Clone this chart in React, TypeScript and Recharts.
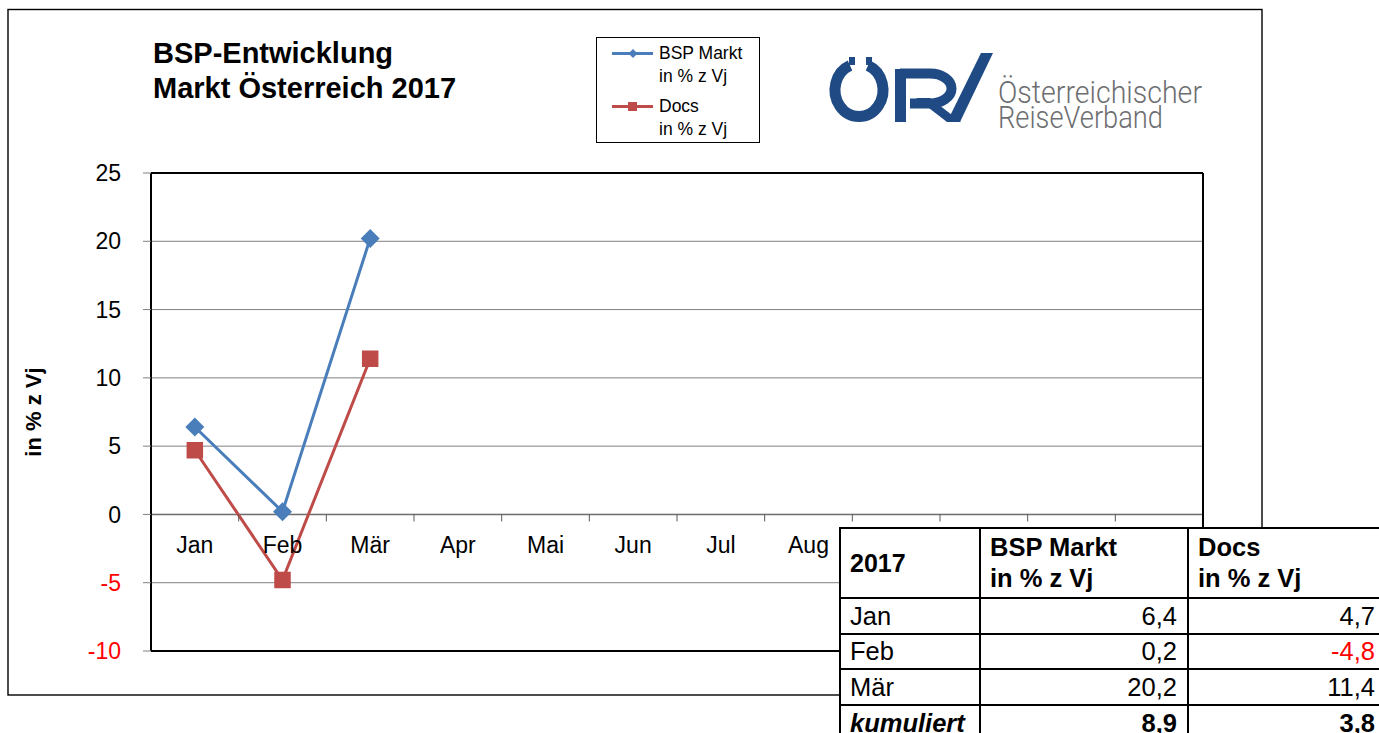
import React from 'react';
import {
  LineChart,
  Line,
  XAxis,
  YAxis,
  CartesianGrid,
  ReferenceLine,
  Legend,
} from 'recharts';

// ---------- data ----------
const months = ['Jan', 'Feb', 'Mär', 'Apr', 'Mai', 'Jun', 'Jul', 'Aug', 'Sep', 'Okt', 'Nov', 'Dez'];
const bspMarkt: (number | null)[] = [6.4, 0.2, 20.2, null, null, null, null, null, null, null, null, null];
const docs: (number | null)[] = [4.7, -4.8, 11.4, null, null, null, null, null, null, null, null, null];
const yTicks = [-10, -5, 0, 5, 10, 15, 20, 25];
const seriesNames = ['BSP Markt', 'Docs'];
const unitLabel = 'in % z Vj';
const titleLines = ['BSP-Entwicklung', 'Markt Österreich 2017'];
const tableYear = '2017';
const tableMonths = ['Jan', 'Feb', 'Mär'];
const tableBsp = [6.4, 0.2, 20.2];
const tableDocs = [4.7, -4.8, 11.4];
const cumulativeLabel = 'kumuliert';
const cumulative = [8.9, 3.8];
const logoLines = ['Österreichischer', 'ReiseVerband'];

const data = months.map((m, i) => ({ month: m, bsp: bspMarkt[i], docs: docs[i] }));

// ---------- layout ----------
const W = 1379;
const H = 733;
const PLOT_LEFT = 151;
const PLOT_TOP = 173;
const PLOT_RIGHT = 1203;
const PLOT_BOTTOM = 651;
const Y_MIN = -10;
const Y_MAX = 25;
const ZERO_Y = PLOT_TOP + (Y_MAX / (Y_MAX - Y_MIN)) * (PLOT_BOTTOM - PLOT_TOP);
const BAND = (PLOT_RIGHT - PLOT_LEFT) / months.length;
const Y_AXIS_W = 60;
const RIGHT_AXIS_W = 1;
const X_AXIS_H = 30;
const FONT = '"Liberation Sans", Arial, Helvetica, sans-serif';
const BLUE = '#4a7ebb';
const RED = '#be4b48';
const GRID = '#808080';

const fmt = (v: number) => v.toFixed(1).replace('.', ',');

const XTick = (props: any) => {
  const { x, payload, index } = props;
  return (
    <g>
      {index > 0 && (
        <line x1={x - BAND / 2} x2={x - BAND / 2} y1={ZERO_Y} y2={ZERO_Y + 7} stroke="#595959" strokeWidth={1} />
      )}
      <text x={x} y={ZERO_Y + 39} textAnchor="middle" fontSize={23} fill="#000" fontFamily={FONT}>
        {payload.value}
      </text>
    </g>
  );
};

const YTick = (props: any) => {
  const { x, y, payload } = props;
  return (
    <text
      x={x}
      y={y}
      dy="0.355em"
      textAnchor="end"
      fontSize={23}
      fontFamily={FONT}
      fill={payload.value < 0 ? '#ff0000' : '#000'}
    >
      {payload.value}
    </text>
  );
};

const YLabel = (props: any) => {
  const { viewBox } = props;
  const cy = viewBox.y + viewBox.height / 2;
  return (
    <text
      x={33}
      y={cy}
      transform={`rotate(-90, 33, ${cy})`}
      textAnchor="middle"
      dominantBaseline="central"
      fontSize={22}
      fontWeight="bold"
      fontFamily={FONT}
      fill="#000"
    >
      {unitLabel}
    </text>
  );
};

const DiamondDot = (props: any) => {
  const { cx, cy, value } = props;
  if (value == null || cx == null || cy == null) return <g />;
  const r = 9.5;
  return <path d={`M${cx},${cy - r} L${cx + r},${cy} L${cx},${cy + r} L${cx - r},${cy} Z`} fill={BLUE} />;
};

const SquareDot = (props: any) => {
  const { cx, cy, value } = props;
  if (value == null || cx == null || cy == null) return <g />;
  const s = 16.5;
  return <rect x={cx - s / 2} y={cy - s / 2} width={s} height={s} fill={RED} />;
};

const renderLegend = (props: any) => {
  const { payload } = props;
  return (
    <div
      style={{
        position: 'relative',
        width: 164,
        height: 106,
        border: '1px solid #000',
        background: '#fff',
        boxSizing: 'border-box',
        fontFamily: FONT,
        fontSize: 17.5,
        lineHeight: '23px',
        color: '#000',
      }}
    >
      {(payload || []).map((p: any, i: number) => {
        const isBlue = i === 0;
        return (
          <div key={i} style={{ position: 'absolute', left: 0, top: i * 53 }}>
            <svg width={50} height={32} style={{ position: 'absolute', left: 15, top: 0 }}>
              <line x1={0} x2={41} y1={15.5} y2={15.5} stroke={p.color} strokeWidth={3} />
              {isBlue ? (
                <path d="M21,11 L25.5,15.5 L21,20 L16.5,15.5 Z" fill={p.color} />
              ) : (
                <rect x={16} y={11} width={9} height={9} fill={p.color} />
              )}
            </svg>
            <div style={{ position: 'absolute', left: 62, top: 4, whiteSpace: 'nowrap' }}>
              {p.value}
              <br />
              {unitLabel}
            </div>
          </div>
        );
      })}
    </div>
  );
};

const cellBase: React.CSSProperties = {
  border: '2px solid #000',
  padding: 0,
  fontFamily: FONT,
  fontSize: 25.5,
  color: '#000',
  whiteSpace: 'nowrap',
  overflow: 'hidden',
};

export default function App() {
  return (
    <div
      style={{
        position: 'absolute',
        left: 0,
        top: 0,
        width: W,
        height: H,
        overflow: 'hidden',
        background: '#fff',
      }}
    >
      <LineChart
        width={W}
        height={H}
        data={data}
        margin={{
          top: PLOT_TOP,
          right: W - PLOT_RIGHT - RIGHT_AXIS_W,
          bottom: H - PLOT_BOTTOM - X_AXIS_H,
          left: PLOT_LEFT - Y_AXIS_W,
        }}
      >
        <CartesianGrid vertical={false} stroke={GRID} strokeWidth={1} />
        <XAxis
          dataKey="month"
          height={X_AXIS_H}
          axisLine={false}
          tickLine={false}
          interval={0}
          padding={{ left: BAND / 2, right: BAND / 2 }}
          tick={<XTick />}
        />
        <YAxis
          type="number"
          domain={[Y_MIN, Y_MAX]}
          ticks={yTicks}
          interval={0}
          width={Y_AXIS_W}
          tickSize={8}
          tickMargin={22}
          axisLine={{ stroke: '#000', strokeWidth: 2 }}
          tickLine={{ stroke: GRID, strokeWidth: 1 }}
          tick={<YTick />}
          label={<YLabel />}
        />
        <YAxis
          yAxisId="frame"
          orientation="right"
          type="number"
          domain={[Y_MIN, Y_MAX]}
          width={RIGHT_AXIS_W}
          tick={false}
          tickLine={false}
          axisLine={{ stroke: '#000', strokeWidth: 2 }}
        />
        <ReferenceLine y={0} stroke="#6f6f6f" strokeWidth={1.5} />
        <ReferenceLine y={Y_MAX} stroke="#000" strokeWidth={2} />
        <ReferenceLine y={Y_MIN} stroke="#000" strokeWidth={2} />
        <Legend
          layout="vertical"
          align="center"
          verticalAlign="middle"
          content={renderLegend}
          wrapperStyle={{ position: 'absolute', left: 596, top: 37, width: 164, height: 106 }}
        />
        <Line
          type="linear"
          dataKey="bsp"
          name={seriesNames[0]}
          stroke={BLUE}
          strokeWidth={3}
          dot={<DiamondDot />}
          activeDot={false}
          isAnimationActive={false}
        />
        <Line
          type="linear"
          dataKey="docs"
          name={seriesNames[1]}
          stroke={RED}
          strokeWidth={3}
          dot={<SquareDot />}
          activeDot={false}
          isAnimationActive={false}
        />
      </LineChart>

      <svg
        width={W}
        height={H}
        style={{ position: 'absolute', left: 0, top: 0, pointerEvents: 'none' }}
      >
        <rect x={8} y={9.5} width={1254} height={685.5} fill="none" stroke="#000" strokeWidth={1.4} />
        {titleLines.map((t, i) => (
          <text key={i} x={153} y={63 + i * 35} fontSize={29} fontWeight="bold" fontFamily={FONT} fill="#000">
            {t}
          </text>
        ))}
        {/* logo */}
        <g fill="#1f4a84">
          <path
            d="M 868 65.4 A 24 26.5 0 1 1 850 65.4"
            fill="none"
            stroke="#1f4a84"
            strokeWidth={11}
          />
          <rect x={849} y={57} width={6} height={8} />
          <rect x={866} y={57} width={6} height={8} />
          <rect x={895} y={69} width={11} height={53} />
          <path
            d="M 900 73.5 L 930 73.5 A 21.5 15 0 0 1 930 103.5 L 910 103.5"
            fill="none"
            stroke="#1f4a84"
            strokeWidth={10}
          />
          <polygon points="916,98 930,98 961,122 947,122" />
          <polygon points="947,122 960,122 993,53 981,53" />
        </g>
        <text
          x={998}
          y={103}
          fontSize={31}
          fontWeight={300}
          fontFamily="Roboto, 'Open Sans', sans-serif"
          fill="#6d6e71"
          textLength={204}
          lengthAdjust="spacingAndGlyphs"
        >
          {logoLines[0]}
        </text>
        <text
          x={998}
          y={128}
          fontSize={31}
          fontWeight={300}
          fontFamily="Roboto, 'Open Sans', sans-serif"
          fill="#6d6e71"
          textLength={165}
          lengthAdjust="spacingAndGlyphs"
        >
          {logoLines[1]}
        </text>
      </svg>

      <table
        style={{
          position: 'absolute',
          left: 839,
          top: 527,
          borderCollapse: 'collapse',
          tableLayout: 'fixed',
          width: 549,
          background: '#fff',
        }}
      >
        <colgroup>
          <col style={{ width: 140 }} />
          <col style={{ width: 208 }} />
          <col style={{ width: 201 }} />
        </colgroup>
        <tbody>
          <tr style={{ height: 70 }}>
            <td style={{ ...cellBase, fontWeight: 'bold', paddingLeft: 9, fontSize: 25, verticalAlign: 'middle' }}>
              {tableYear}
            </td>
            {seriesNames.map((n, i) => (
              <td
                key={i}
                style={{
                  ...cellBase,
                  fontWeight: 'bold',
                  fontSize: 25.5,
                  paddingLeft: 9,
                  lineHeight: '31px',
                  verticalAlign: 'middle',
                }}
              >
                {n}
                <br />
                {unitLabel}
              </td>
            ))}
          </tr>
          {tableMonths.map((m, i) => (
            <tr key={m} style={{ height: i === 1 ? 35 : 36 }}>
              <td style={{ ...cellBase, paddingLeft: 9 }}>{m}</td>
              <td style={{ ...cellBase, textAlign: 'right', paddingRight: 10 }}>{fmt(tableBsp[i])}</td>
              <td
                style={{
                  ...cellBase,
                  textAlign: 'right',
                  paddingRight: 13,
                  color: tableDocs[i] < 0 ? '#ff0000' : '#000',
                }}
              >
                {fmt(tableDocs[i])}
              </td>
            </tr>
          ))}
          <tr style={{ height: 36 }}>
            <td style={{ ...cellBase, paddingLeft: 9, fontWeight: 'bold', fontStyle: 'italic' }}>{cumulativeLabel}</td>
            <td style={{ ...cellBase, textAlign: 'right', paddingRight: 10, fontWeight: 'bold' }}>
              {fmt(cumulative[0])}
            </td>
            <td style={{ ...cellBase, textAlign: 'right', paddingRight: 13, fontWeight: 'bold' }}>
              {fmt(cumulative[1])}
            </td>
          </tr>
        </tbody>
      </table>
    </div>
  );
}
